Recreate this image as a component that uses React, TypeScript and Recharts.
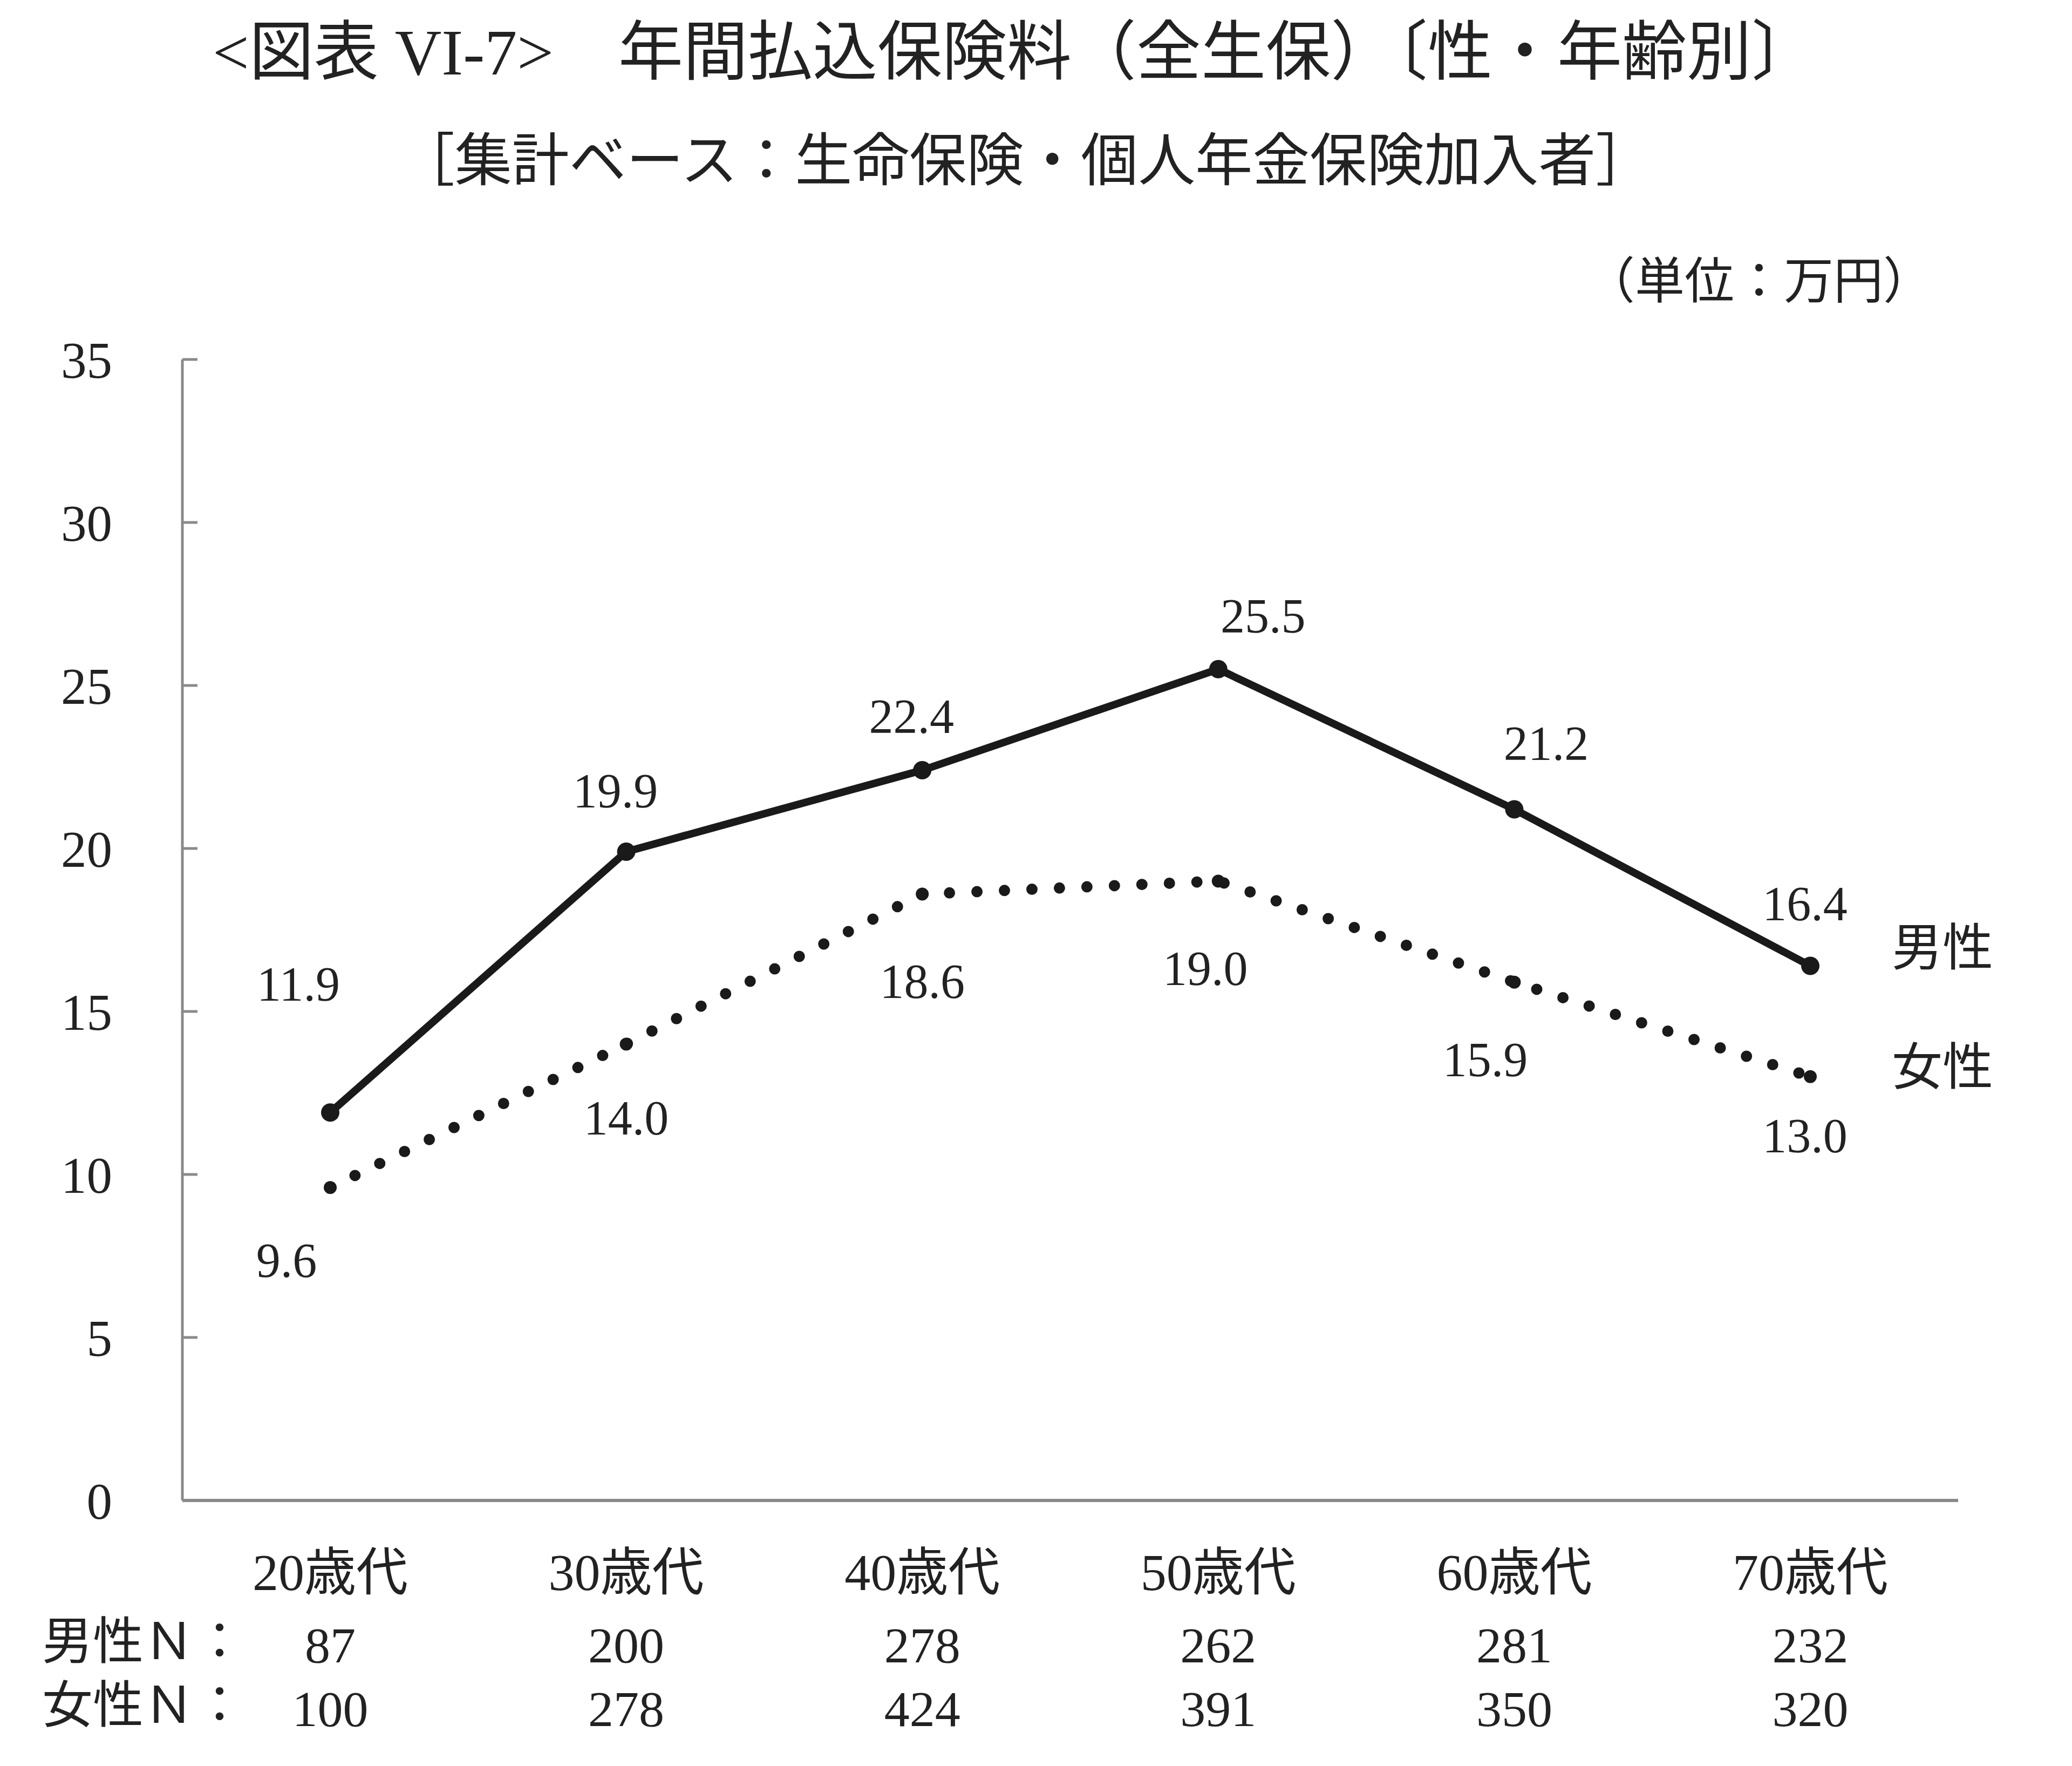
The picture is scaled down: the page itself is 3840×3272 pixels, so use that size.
import { LineChart, Line, XAxis, YAxis, LabelList } from 'recharts'

const ageGroups = ['20歳代', '30歳代', '40歳代', '50歳代', '60歳代', '70歳代']
const malePremium = [11.9, 19.9, 22.4, 25.5, 21.2, 16.4]
const femalePremium = [9.6, 14.0, 18.6, 19.0, 15.9, 13.0]
const maleN = [87, 200, 278, 262, 281, 232]
const femaleN = [100, 278, 424, 391, 350, 320]
const yTicks = [0, 5, 10, 15, 20, 25, 30, 35]

// label nudges (px) so the value labels sit where the original put them
const maleLabelShift = [
  [-59, -238],
  [-20, -113],
  [-20, -100],
  [83, -98],
  [59, -122],
  [-10, -115],
]
const femaleLabelShift = [
  [-81, 135],
  [0, 137],
  [0, 162],
  [-24, 162],
  [-54, 144],
  [-10, 110],
]

const FONT = "'Liberation Serif', 'Noto Sans CJK JP', serif"
const INK = '#222'
const AXIS = '#8a8a8a'

const data = ageGroups.map((age, i) => ({
  age,
  male: malePremium[i],
  female: femalePremium[i],
  maleN: maleN[i],
  femaleN: femaleN[i],
}))

function makeLabel(shift: number[][], name: string, nameDy: number) {
  return (props: any) => {
    const { x, y, value, index } = props
    const [dx, dy] = shift[index] || [0, 0]
    return (
      <g>
        <text
          x={x + dx}
          y={y + dy}
          textAnchor="middle"
          dominantBaseline="central"
          fontSize={90}
          fontFamily={FONT}
          fill={INK}
        >
          {Number(value).toFixed(1)}
        </text>
        {index === ageGroups.length - 1 && (
          <text
            x={x + 245}
            y={y + nameDy}
            textAnchor="middle"
            dominantBaseline="central"
            fontSize={94}
            fontFamily={FONT}
            fill={INK}
          >
            {name}
          </text>
        )}
      </g>
    )
  }
}

function CategoryTick(props: any) {
  const { x, y, index } = props
  const row = data[index]
  return (
    <g fontFamily={FONT} fill={INK} textAnchor="middle">
      <text x={x} y={y + 127} dominantBaseline="central" fontSize={96}>
        {row.age}
      </text>
      <text x={x} y={y + 262} dominantBaseline="central" fontSize={94}>
        {row.maleN}
      </text>
      <text x={x} y={y + 380} dominantBaseline="central" fontSize={94}>
        {row.femaleN}
      </text>
    </g>
  )
}

const abs = (left: number, top: number, size: number, extra: any = {}) => ({
  position: 'absolute' as const,
  left,
  top: top - size / 2,
  fontSize: size,
  lineHeight: `${size}px`,
  fontFamily: FONT,
  color: INK,
  whiteSpace: 'nowrap' as const,
  ...extra,
})

export default function App() {
  return (
    <div
      style={{
        position: 'absolute',
        left: 0,
        top: 0,
        width: 3840,
        height: 3272,
        background: '#fff',
        overflow: 'hidden',
      }}
    >
      <div style={abs(0, 98, 120, { width: 3760, textAlign: 'center' })}>
        &lt;図表 VI-7&gt;　年間払込保険料（全生保）〔性・年齢別〕
      </div>
      <div style={abs(0, 299, 106, { width: 3800, textAlign: 'center' })}>
        ［集計ベース：生命保険・個人年金保険加入者］
      </div>
      <div style={abs(0, 522, 92, { width: 3582, textAlign: 'right' })}>
        （単位：万円）
      </div>
      <div style={abs(78, 3042, 94)}>男性Ｎ：</div>
      <div style={abs(78, 3160, 94)}>女性Ｎ：</div>

      <div style={{ position: 'absolute', left: 0, top: 0 }}>
        <LineChart
          width={3840}
          height={3272}
          data={data}
          margin={{ top: 666, right: 211, bottom: 342, left: 0 }}
        >
          <XAxis
            dataKey="age"
            height={150}
            padding={{ left: 274, right: 274 }}
            axisLine={{ stroke: AXIS, strokeWidth: 6 }}
            tickLine={false}
            tickMargin={0}
            tick={<CategoryTick />}
            interval={0}
          />
          <YAxis
            width={338}
            domain={[0, 35]}
            ticks={yTicks}
            interval={0}
            axisLine={{ stroke: AXIS, strokeWidth: 5 }}
            tickLine={{ stroke: AXIS, strokeWidth: 5 }}
            tickSize={-28}
            tickMargin={158}
            tick={{ fontSize: 95, fontFamily: FONT, fill: INK }}
          />
          <Line
            dataKey="male"
            stroke="#1a1a1a"
            strokeWidth={14}
            dot={{ r: 17, fill: '#1a1a1a', stroke: 'none' }}
            isAnimationActive={false}
          >
            <LabelList dataKey="male" content={makeLabel(maleLabelShift, '男性', -32)} />
          </Line>
          <Line
            dataKey="female"
            stroke="#1a1a1a"
            strokeWidth={21}
            strokeDasharray="0 51"
            strokeLinecap="round"
            dot={{ r: 12, fill: '#1a1a1a', stroke: 'none' }}
            isAnimationActive={false}
          >
            <LabelList
              dataKey="female"
              content={makeLabel(femaleLabelShift, '女性', -17)}
            />
          </Line>
        </LineChart>
      </div>
    </div>
  )
}
